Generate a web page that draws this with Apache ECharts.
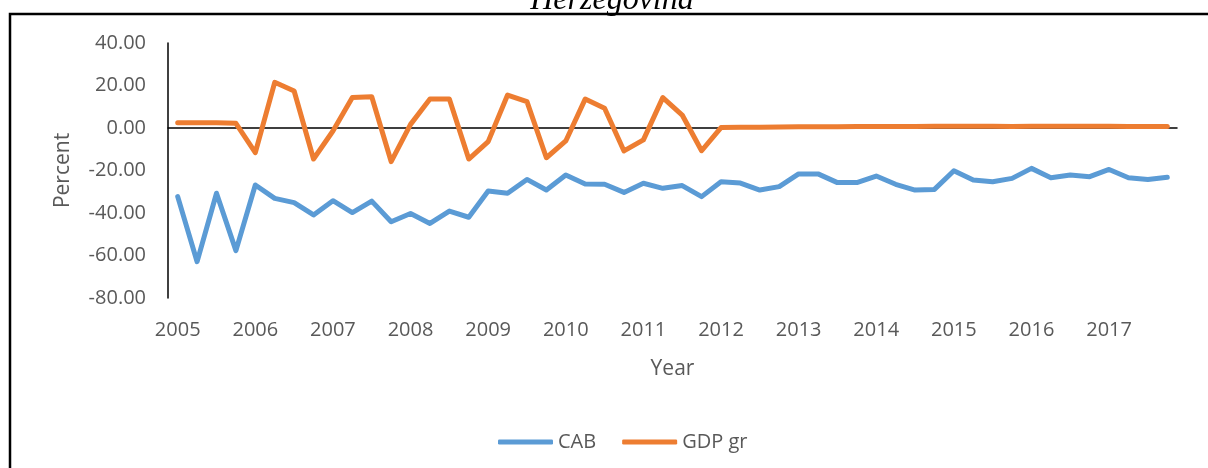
<!DOCTYPE html>
<html>
<head>
<meta charset="utf-8">
<script src="https://cdn.jsdelivr.net/npm/echarts@6/dist/echarts.min.js"></script>
<style>
  html, body { margin: 0; padding: 0; background: #fff; }
  #chart { width: 1208px; height: 468px; }
</style>
</head>
<body>
<div id="chart"></div>
<script>
// quarterly data, 2005Q1 .. 2017Q4
var years = ['2005', '2006', '2007', '2008', '2009', '2010', '2011', '2012', '2013', '2014', '2015', '2016', '2017'];
var quarters = [];
years.forEach(function (y) {
  ['Q1', 'Q2', 'Q3', 'Q4'].forEach(function (q) { quarters.push(y + q); });
});

var cab = [
  -32.3, -62.9, -30.7, -57.7,
  -26.8, -33.1, -35.1, -40.9,
  -34.2, -39.8, -34.4, -44.1,
  -40.2, -44.9, -39.1, -42.0,
  -29.6, -30.7, -24.2, -29.2,
  -22.1, -26.4, -26.5, -30.3,
  -26.0, -28.4, -27.1, -32.3,
  -25.3, -25.9, -29.2, -27.6,
  -21.6, -21.6, -25.7, -25.7,
  -22.6, -26.5, -29.2, -28.9,
  -20.1, -24.5, -25.3, -23.7,
  -19.0, -23.4, -22.1, -22.9,
  -19.5, -23.4, -24.2, -23.2
];

var gdpGr = [
  2.5, 2.5, 2.5, 2.2,
  -11.6, 21.5, 17.4, -14.6,
  -1.4, 14.4, 14.7, -15.8,
  1.7, 13.6, 13.6, -14.6,
  -6.4, 15.5, 12.4, -14.0,
  -6.1, 13.6, 9.3, -10.8,
  -5.6, 14.3, 6.1, -10.7,
  0.2, 0.3, 0.4, 0.5,
  0.6, 0.6, 0.6, 0.7,
  0.7, 0.7, 0.7, 0.8,
  0.8, 0.8, 0.8, 0.7,
  0.8, 0.8, 0.8, 0.8,
  0.8, 0.7, 0.7, 0.7
];

var chart = echarts.init(document.getElementById('chart'));
var textColor = '#595959';
var font = 'Open Sans';

chart.setOption({
  animation: false,
  graphic: [
    {
      type: 'rect',
      shape: { x: 10, y: 14, width: 1220, height: 480 },
      style: { fill: 'none', stroke: '#000', lineWidth: 2.5 },
      silent: true
    },
    {
      type: 'text',
      x: 612,
      y: 1,
      style: {
        text: 'Herzegovina',
        font: 'italic 32px "Liberation Serif", serif',
        fill: '#000',
        align: 'center',
        verticalAlign: 'middle'
      },
      silent: true
    }
  ],
  grid: { left: 168, right: 31, top: 43, bottom: 170 },
  legend: {
    left: 493,
    top: 427,
    itemWidth: 55,
    itemHeight: 5,
    itemGap: 26,
    icon: 'roundRect',
    textStyle: { color: textColor, fontFamily: font, fontSize: 20 },
    data: ['CAB', 'GDP gr']
  },
  xAxis: [
    {
      type: 'category',
      data: quarters,
      boundaryGap: true,
      name: 'Year',
      nameLocation: 'middle',
      nameGap: 61,
      nameTextStyle: { color: textColor, fontFamily: font, fontSize: 21 },
      axisLine: { show: false, onZero: false },
      axisTick: { show: false },
      axisLabel: {
        interval: 3,
        margin: 22,
        color: textColor,
        fontFamily: font,
        fontSize: 20,
        formatter: function (v) { return v.slice(0, 4); }
      }
    },
    {
      type: 'category',
      data: quarters,
      boundaryGap: true,
      position: 'bottom',
      axisLine: { show: true, onZero: true, lineStyle: { color: '#000', width: 1.5 } },
      axisTick: { show: false },
      axisLabel: { show: false }
    }
  ],
  yAxis: {
    type: 'value',
    min: -80,
    max: 40,
    interval: 20,
    name: 'Percent',
    nameLocation: 'middle',
    nameGap: 94,
    nameTextStyle: { color: textColor, fontFamily: font, fontSize: 21 },
    axisLine: { show: true, lineStyle: { color: '#000', width: 1.5 } },
    axisTick: { show: false },
    splitLine: { show: false },
    axisLabel: {
      margin: 22,
      color: textColor,
      fontFamily: font,
      fontSize: 20,
      formatter: function (v) { return v.toFixed(2); }
    }
  },
  series: [
    {
      name: 'CAB',
      type: 'line',
      data: cab,
      showSymbol: false,
      symbol: 'none',
      color: '#5B9BD5',
      lineStyle: { width: 5, cap: 'round', join: 'round' }
    },
    {
      name: 'GDP gr',
      type: 'line',
      data: gdpGr,
      showSymbol: false,
      symbol: 'none',
      color: '#ED7D31',
      lineStyle: { width: 5, cap: 'round', join: 'round' }
    }
  ]
});
</script>
</body>
</html>
